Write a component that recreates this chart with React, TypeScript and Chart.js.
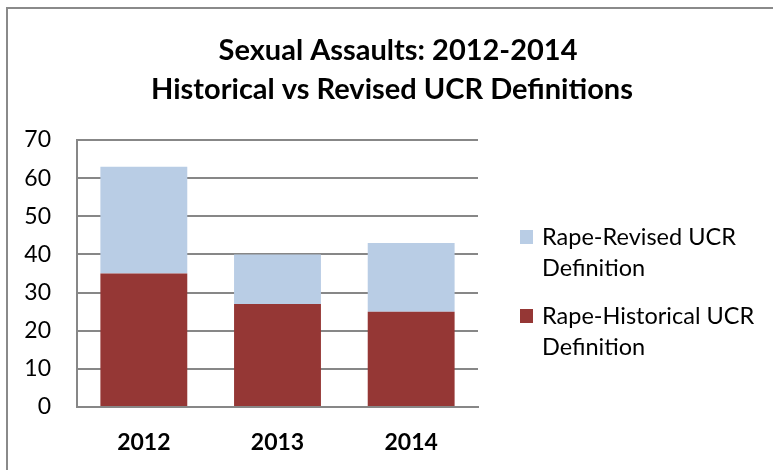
import React, { useEffect, useRef } from "react";
import { Chart, registerables } from "chart.js";

Chart.register(...registerables);

const categories = ["2012", "2013", "2014"];
const historical = [35, 27, 25];
const revisedExtra = [28, 13, 18];
const titleLines = ["Sexual Assaults: 2012-2014", "Historical vs Revised UCR Definitions"];
const legendLines: Record<string, string[]> = {
  "Rape-Revised UCR Definition": ["Rape-Revised UCR", "Definition"],
  "Rape-Historical UCR Definition": ["Rape-Historical UCR", "Definition"],
};
const yTicks = [0, 10, 20, 30, 40, 50, 60, 70];

const FONT = "Lato, 'Open Sans', sans-serif";
const RED = "#953735";
const BLUE = "#B9CDE5";
const GRID = "#878787";

const decorPlugin = {
  id: "decor",
  afterDraw(chart: any) {
    const ctx = chart.ctx;
    ctx.save();
    // outer border
    ctx.strokeStyle = "#8a8a8a";
    ctx.lineWidth = 2;
    ctx.beginPath();
    ctx.moveTo(7, 480);
    ctx.lineTo(7, 8);
    ctx.lineTo(790, 8);
    ctx.stroke();
    // title
    ctx.fillStyle = "#000";
    ctx.textAlign = "center";
    ctx.textBaseline = "alphabetic";
    ctx.font = "bold 29px " + FONT;
    ctx.fillText(titleLines[0], 398, 60);
    ctx.fillText(titleLines[1], 392, 99);
    // legend (reverse order like Excel stacked)
    const ds = chart.data.datasets;
    const order = [1, 0];
    ctx.textAlign = "left";
    ctx.textBaseline = "middle";
    ctx.font = "23.5px " + FONT;
    const startYs = [237, 316];
    order.forEach((di, i) => {
      const d = ds[di];
      const y0 = startYs[i];
      ctx.fillStyle = d.backgroundColor;
      ctx.fillRect(520, y0 - 7, 13, 14);
      ctx.fillStyle = "#000";
      const lines = legendLines[d.label] || [d.label];
      lines.forEach((ln: string, k: number) => {
        ctx.fillText(ln, 542, y0 + k * 31);
      });
    });
    ctx.restore();
  },
};

export default function App() {
  const ref = useRef<HTMLCanvasElement>(null);
  useEffect(() => {
    document.body.style.margin = "0";
    const chart = new Chart(ref.current!, {
      type: "bar",
      data: {
        labels: categories,
        datasets: [
          {
            label: "Rape-Historical UCR Definition",
            data: historical,
            backgroundColor: RED,
            categoryPercentage: 1,
            barPercentage: 0.65,
          },
          {
            label: "Rape-Revised UCR Definition",
            data: revisedExtra,
            backgroundColor: BLUE,
            categoryPercentage: 1,
            barPercentage: 0.65,
          },
        ],
      },
      options: {
        animation: false,
        responsive: false,
        layout: { padding: { top: 140, right: 295, left: 0, bottom: 0 } },
        plugins: { legend: { display: false }, title: { display: false }, tooltip: { enabled: false } },
        scales: {
          x: {
            stacked: true,
            grid: { display: false, drawTicks: false },
            border: { display: true, color: GRID, width: 2 },
            ticks: { color: "#000", font: { family: FONT, size: 23, weight: "bold" }, padding: 22 },
            afterFit: (s: any) => { s.height = 63; },
          },
          y: {
            stacked: true,
            min: 0,
            max: 70,
            afterBuildTicks: (s: any) => { s.ticks = yTicks.map((v) => ({ value: v })); },
            grid: { color: GRID, lineWidth: 2, drawTicks: false },
            border: { display: true, color: GRID, width: 2 },
            ticks: { color: "#000", font: { family: FONT, size: 23 }, padding: 26 },
            afterFit: (s: any) => { s.width = 77; },
          },
        },
      },
      plugins: [decorPlugin],
    });
    return () => chart.destroy();
  }, []);
  return <canvas ref={ref} width={773} height={470} style={{ display: "block" }} />;
}
